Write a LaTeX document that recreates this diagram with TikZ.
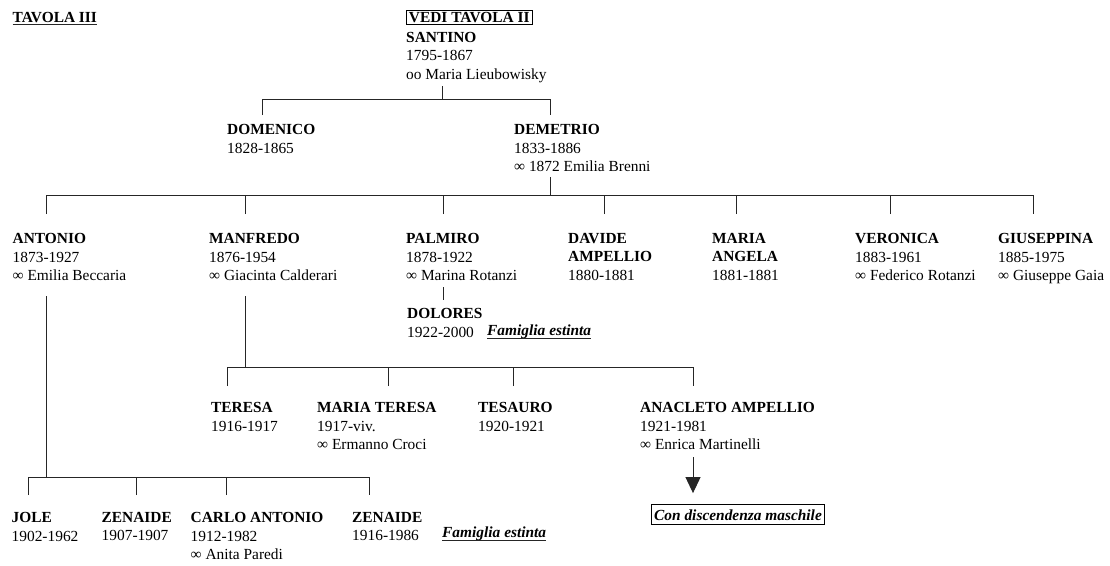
\documentclass[tikz,border=0pt]{standalone}
\usepackage{fontspec}
\setmainfont{Liberation Serif}
\usetikzlibrary{arrows.meta}
\tikzset{
  person/.style={anchor=north west,align=left,inner sep=0pt},
  tie/.style={line width=1pt,black!85},
  estinta/.style={anchor=base west,inner sep=0pt,font=\bfseries\itshape},
  sotto/.style={line width=0.8pt,black!85}
}
\begin{document}
\fontsize{15.4}{18.6}\selectfont
\begin{tikzpicture}[x=1pt,y=-1pt]
  \useasboundingbox (0,0) rectangle (1110,565);
  \node[anchor=base west,inner sep=0pt,font=\bfseries] (tavola) at (12.5,22) {TAVOLA III};
  \draw[sotto] ([yshift=-2.5pt]tavola.base west) -- ([yshift=-2.5pt]tavola.base east);
  \node[anchor=base west,draw,line width=0.8pt,inner xsep=2.5pt,inner ysep=2.3pt,
    text height=10pt,text depth=0pt,font=\bfseries] (vedi) at (406,22.3) {VEDI TAVOLA II};

  \node[person] (santino) at (406,32) {\textbf{SANTINO}\\1795-1867\\oo Maria Lieubowisky};
  \node[person] (domenico) at (227,124) {\textbf{DOMENICO}\\1828-1865};
  \node[person] (demetrio) at (514,124) {\textbf{DEMETRIO}\\1833-1886\\∞ 1872 Emilia Brenni};

  \node[person] (antonio) at (12.5,233) {\textbf{ANTONIO}\\1873-1927\\∞ Emilia Beccaria};
  \node[person] (manfredo) at (209,233) {\textbf{MANFREDO}\\1876-1954\\∞ Giacinta Calderari};
  \node[person] (palmiro) at (406,233) {\textbf{PALMIRO}\\1878-1922\\∞ Marina Rotanzi};
  \node[person] (davide) at (568,233) {\textbf{DAVIDE}\\\textbf{AMPELLIO}\\1880-1881};
  \node[person] (maria) at (712,233) {\textbf{MARIA}\\\textbf{ANGELA}\\1881-1881};
  \node[person] (veronica) at (855,233) {\textbf{VERONICA}\\1883-1961\\∞ Federico Rotanzi};
  \node[person] (giuseppina) at (998,233) {\textbf{GIUSEPPINA}\\1885-1975\\∞ Giuseppe Gaia};

  \node[person] (dolores) at (407,308) {\textbf{DOLORES}\\1922-2000};
  \node[estinta] (fam1) at (487,335) {Famiglia estinta};
  \draw[sotto] ([yshift=-3pt]fam1.base west) -- ([yshift=-3pt]fam1.base east);

  \node[person] (teresa) at (211,402) {\textbf{TERESA}\\1916-1917};
  \node[person] (mariateresa) at (317,402) {\textbf{MARIA TERESA}\\1917-viv.\\∞ Ermanno Croci};
  \node[person] (tesauro) at (478,402) {\textbf{TESAURO}\\1920-1921};
  \node[person] (anacleto) at (640,402) {\textbf{ANACLETO AMPELLIO}\\1921-1981\\∞ Enrica Martinelli};

  \node[person] (jole) at (11.5,512) {\textbf{JOLE}\\1902-1962};
  \node[person] (zenaide) at (101.5,512) {\textbf{ZENAIDE}\\1907-1907};
  \node[person] (carlo) at (190.5,512) {\textbf{CARLO ANTONIO}\\1912-1982\\∞ Anita Paredi};
  \node[person] (zenaidebis) at (352,512) {\textbf{ZENAIDE}\\1916-1986};
  \node[estinta] (fam2) at (442,537) {Famiglia estinta};
  \draw[sotto] ([yshift=-3pt]fam2.base west) -- ([yshift=-3pt]fam2.base east);

  \node[draw,line width=0.8pt,anchor=base,inner xsep=3pt,inner ysep=4.5pt,
    text height=11pt,text depth=0pt,font=\bfseries\itshape] (con) at (738,520) {Con discendenza maschile};

  \foreach \c/\dx/\dy in {santino/36/54,demetrio/36/53,antonio/34/63,manfredo/36/63,palmiro/37/54,anacleto/53/55}
    \coordinate (\c-b) at ([shift={(\dx,\dy)}]\c.north west);
  \foreach \c/\dx/\dy in {domenico/35/-9,demetrio/36/-9,
      antonio/34/-19,manfredo/36/-19,palmiro/37/-19,davide/36/-19,maria/24/-19,veronica/35/-19,giuseppina/35/-19,
      dolores/36/-8,teresa/16/-16,mariateresa/71/-16,tesauro/35/-16,anacleto/53/-16,
      jole/16.5/-17,zenaide/34.5/-17,carlo/35.5/-17,zenaidebis/17/-17}
    \coordinate (\c-t) at ([shift={(\dx,\dy)}]\c.north west);
  \coordinate (bus1) at (0,99);
  \coordinate (bus2) at (0,195);
  \coordinate (bus3) at (0,367);
  \coordinate (bus4) at (0,477);

  \draw[tie] (santino-b) -- (santino-b |- bus1);
  \draw[tie] (domenico-t) |- (demetrio-t |- bus1) -- (demetrio-t);

  \draw[tie] (demetrio-b) -- (demetrio-b |- bus2);
  \draw[tie] (antonio-t) |- (giuseppina-t |- bus2) -- (giuseppina-t);
  \foreach \c in {manfredo,palmiro,davide,maria,veronica}
    \draw[tie] (\c-t) -- (\c-t |- bus2);

  \draw[tie] (palmiro-b) -- (dolores-t);

  \draw[tie] (manfredo-b) -- (manfredo-b |- bus3);
  \draw[tie] (teresa-t) |- (anacleto-t |- bus3) -- (anacleto-t);
  \foreach \c in {mariateresa,tesauro}
    \draw[tie] (\c-t) -- (\c-t |- bus3);

  \draw[tie] (antonio-b) -- (antonio-b |- bus4);
  \draw[tie] (jole-t) |- (zenaidebis-t |- bus4) -- (zenaidebis-t);
  \foreach \c in {zenaide,carlo}
    \draw[tie] (\c-t) -- (\c-t |- bus4);

  \draw[tie,-{Triangle[width=15pt,length=16pt]},shorten >=11pt] (anacleto-b) -- (anacleto-b |- con.north);
\end{tikzpicture}
\end{document}
